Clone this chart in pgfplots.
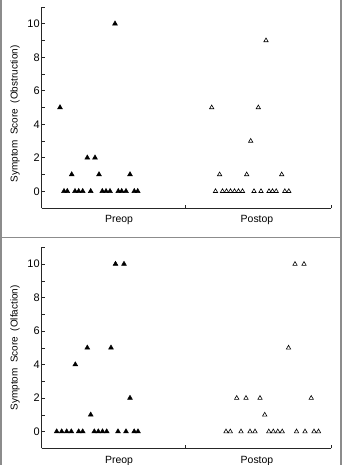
\documentclass[border=0pt]{standalone}
\usepackage{fontspec}
\setmainfont{Liberation Sans}
\usepackage{pgfplots}
\pgfplotsset{compat=1.18}
\pgfplotsset{
  panel/.style={
    scale only axis, width=289.3bp, height=201bp,
    xmin=41.7, xmax=331, ymin=-1, ymax=11,
    axis x line=bottom, axis y line=left,
    axis line style={-, black!85, line width=0.6bp},
    every tick/.style={black!85, line width=0.6bp},
    tick align=inside,
    ytick={0,2,...,10}, minor ytick={-1,1,...,11},
    major tick length=3.5bp, minor tick length=3bp,
    xtick={185.7,331}, xticklabels={},
    extra x ticks={119,257}, extra x tick labels={Preop,Postop},
    extra x tick style={major tick length=0pt, tick style={draw=none}},
    /pgf/number format/assume math mode=true,
    yticklabel style={font=\fontsize{11}{13}\selectfont, xshift=1.5bp},
    xticklabel style={font=\fontsize{10.5}{12}\selectfont, yshift=-4bp},
    ylabel style={font=\fontsize{10}{12}\selectfont},
    clip=false,
  },
  pre/.style={only marks, mark=triangle*, mark size=2.8bp, mark options={fill=black, draw=black, line width=0.5bp}},
  post/.style={only marks, mark=triangle, mark size=2.5bp, mark options={draw=black, line width=0.6bp}},
}
\begin{document}
\begin{tikzpicture}[x=1bp,y=1bp]
\path[use as bounding box] (0,0) rectangle (342,-465);
\draw[black!45, line width=1.3bp] (1,0)--(1,-465) (341,0)--(341,-465) (1,-237.3)--(341,-237.3);

\begin{axis}[panel, at={(41.7bp,-208bp)}, anchor=south west,
  ylabel={Symptom\ \ Score\ \ (Obstruction)},
  every axis y label/.style={at={(axis description cs:-0.092,0.468)}, rotate=90, anchor=center}]
\addplot+[pre] coordinates {
(60,5)(64,0)(67.3,0)(71.7,1)(75,0)(78.7,0)(82.7,0)(87.3,2)(90.7,0)(95,2)(99,1)
(102.3,0)(106,0)(110,0)(115,10)(118.3,0)(121.7,0)(126,0)(130,1)(134.3,0)(137.7,0)};
\addplot+[post] coordinates {
(211.7,5)(215.5,0)(219.6,1)(222.5,0)(226.5,0)(230.5,0)(234.5,0)(238.5,0)(242.5,0)
(246.7,1)(250.7,3)(254,0)(258.3,5)(261,0)(266,9)(269,0)(272.5,0)(276.2,0)(281.7,1)(284.8,0)(288.8,0)};
\end{axis}

\begin{axis}[panel, at={(41.7bp,-448.3bp)}, anchor=south west,
  ylabel={Symptom\ \ Score\ \ (Olfaction)},
  every axis y label/.style={at={(axis description cs:-0.092,0.5)}, rotate=90, anchor=center}]
\addplot+[pre] coordinates {
(56.7,0)(61.7,0)(66.7,0)(71.3,0)(75.3,4)(78.7,0)(82.7,0)(87.3,5)(90.7,1)(94.3,0)(98.3,0)
(102.5,0)(106.7,0)(111,5)(115.5,10)(118,0)(124,10)(126,0)(130,2)(134.2,0)(138,0)};
\addplot+[post] coordinates {
(226,0)(230.3,0)(236.7,2)(241,0)(246,2)(250,0)(255,0)(260,2)(264.7,1)(268.8,0)(273.3,0)
(277.8,0)(282.2,0)(288.5,5)(295,10)(296.5,0)(304,10)(305,0)(311.2,2)(314,0)(318.5,0)};
\end{axis}
\end{tikzpicture}
\end{document}
